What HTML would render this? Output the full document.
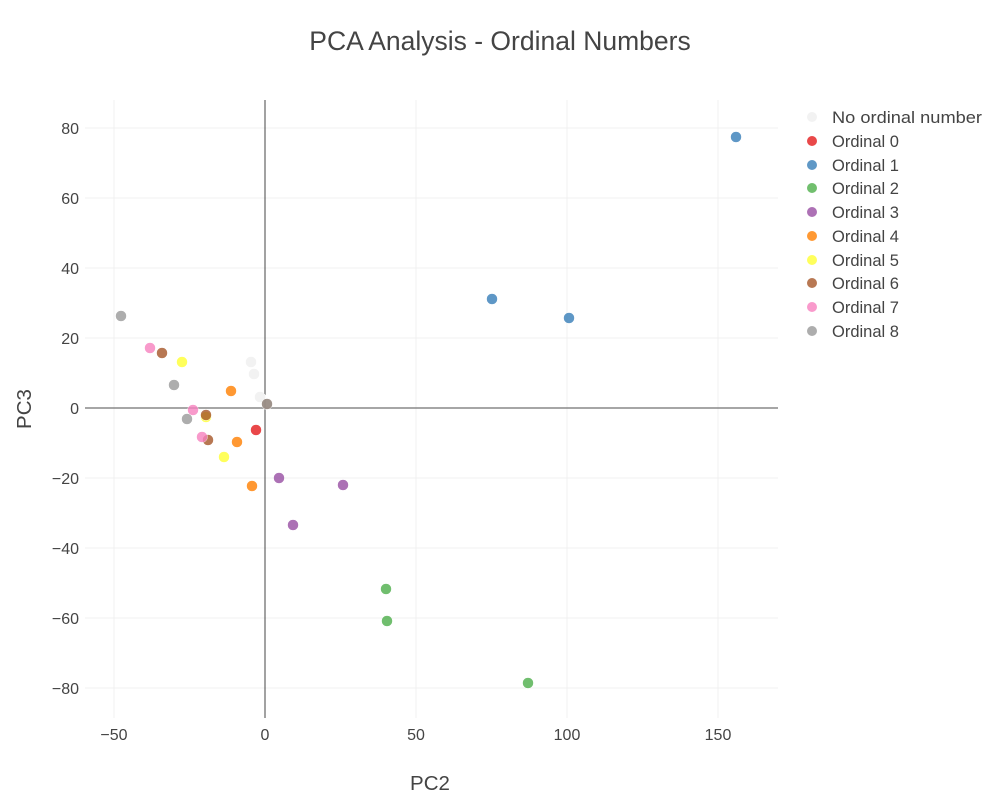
<!DOCTYPE html><html><head><style>body{margin:0;background:#fff}svg text{font-family:"Liberation Sans",sans-serif;fill:#444}</style></head><body>
<svg width="1000" height="800" xmlns="http://www.w3.org/2000/svg">
<text x="500" y="50" font-size="26.5" text-anchor="middle">PCA Analysis - Ordinal Numbers</text>
<g stroke="#f0f0f0" stroke-width="1">
<line x1="114" y1="100" x2="114" y2="718"/><line x1="416" y1="100" x2="416" y2="718"/><line x1="567" y1="100" x2="567" y2="718"/><line x1="718" y1="100" x2="718" y2="718"/>
<line x1="85" y1="128" x2="778" y2="128"/><line x1="85" y1="198" x2="778" y2="198"/><line x1="85" y1="268" x2="778" y2="268"/><line x1="85" y1="338" x2="778" y2="338"/><line x1="85" y1="478" x2="778" y2="478"/><line x1="85" y1="548" x2="778" y2="548"/><line x1="85" y1="618" x2="778" y2="618"/><line x1="85" y1="688" x2="778" y2="688"/>
</g>
<line x1="265" y1="100" x2="265" y2="718" stroke="#444" stroke-width="1"/>
<line x1="85" y1="408" x2="778" y2="408" stroke="#888" stroke-width="1.5"/>
<g font-size="16" text-anchor="middle">
<text x="114" y="740">−50</text><text x="265" y="740">0</text><text x="416" y="740">50</text><text x="567" y="740">100</text><text x="718" y="740">150</text>
</g>
<g font-size="16" text-anchor="end">
<text x="79" y="134">80</text><text x="79" y="204">60</text><text x="79" y="274">40</text><text x="79" y="344">20</text><text x="79" y="414">0</text><text x="79" y="484">−20</text><text x="79" y="554">−40</text><text x="79" y="624">−60</text><text x="79" y="694">−80</text>
</g>
<text x="430" y="790" font-size="20.5" text-anchor="middle">PC2</text>
<text x="31" y="409" font-size="20.5" text-anchor="middle" transform="rotate(-90 31 409)">PC3</text>
<g stroke="#fff" stroke-width="0.5">
<circle cx="251" cy="362" r="5.5" fill="#f2f2f2"/><circle cx="254" cy="374" r="5.5" fill="#f2f2f2"/><circle cx="260" cy="397" r="5.5" fill="#f2f2f2"/>
<circle cx="256" cy="430" r="5.5" fill="#e41a1c" opacity=".8"/>
<circle cx="492" cy="299" r="5.5" fill="#377eb8" opacity=".8"/><circle cx="569" cy="318" r="5.5" fill="#377eb8" opacity=".8"/><circle cx="736" cy="137" r="5.5" fill="#377eb8" opacity=".8"/>
<circle cx="386" cy="589" r="5.5" fill="#4daf4a" opacity=".8"/><circle cx="387" cy="621" r="5.5" fill="#4daf4a" opacity=".8"/><circle cx="528" cy="683" r="5.5" fill="#4daf4a" opacity=".8"/>
<circle cx="279" cy="478" r="5.5" fill="#984ea3" opacity=".8"/><circle cx="343" cy="485" r="5.5" fill="#984ea3" opacity=".8"/><circle cx="293" cy="525" r="5.5" fill="#984ea3" opacity=".8"/>
<circle cx="231" cy="391" r="5.5" fill="#ff7f00" opacity=".8"/><circle cx="237" cy="442" r="5.5" fill="#ff7f00" opacity=".8"/><circle cx="252" cy="486" r="5.5" fill="#ff7f00" opacity=".8"/>
<circle cx="182" cy="362" r="5.5" fill="#ffff33" opacity=".8"/><circle cx="206" cy="417" r="5.5" fill="#ffff33" opacity=".8"/><circle cx="224" cy="457" r="5.5" fill="#ffff33" opacity=".8"/>
<circle cx="162" cy="353" r="5.5" fill="#a65628" opacity=".8"/><circle cx="206" cy="415" r="5.5" fill="#a65628" opacity=".8"/><circle cx="208" cy="440" r="5.5" fill="#a65628" opacity=".8"/><circle cx="267" cy="404" r="5.5" fill="#a65628" opacity=".8"/>
<circle cx="150" cy="348" r="5.5" fill="#f781bf" opacity=".8"/><circle cx="193" cy="410" r="5.5" fill="#f781bf" opacity=".8"/><circle cx="202" cy="437" r="5.5" fill="#f781bf" opacity=".8"/>
<circle cx="121" cy="316" r="5.5" fill="#999" opacity=".8"/><circle cx="174" cy="385" r="5.5" fill="#999" opacity=".8"/><circle cx="187" cy="419" r="5.5" fill="#999" opacity=".8"/><circle cx="267" cy="404" r="5.5" fill="#999" opacity=".8"/>
</g>
<g font-size="16.5">
<circle cx="812" cy="117" r="5" fill="#f2f2f2"/><text x="832" y="123" textLength="150" lengthAdjust="spacingAndGlyphs">No ordinal number</text>
<circle cx="812" cy="141" r="5" fill="#e41a1c" opacity=".8"/><text x="832" y="147">Ordinal 0</text>
<circle cx="812" cy="165" r="5" fill="#377eb8" opacity=".8"/><text x="832" y="171">Ordinal 1</text>
<circle cx="812" cy="188" r="5" fill="#4daf4a" opacity=".8"/><text x="832" y="194">Ordinal 2</text>
<circle cx="812" cy="212" r="5" fill="#984ea3" opacity=".8"/><text x="832" y="218">Ordinal 3</text>
<circle cx="812" cy="236" r="5" fill="#ff7f00" opacity=".8"/><text x="832" y="242">Ordinal 4</text>
<circle cx="812" cy="260" r="5" fill="#ffff33" opacity=".8"/><text x="832" y="266">Ordinal 5</text>
<circle cx="812" cy="283" r="5" fill="#a65628" opacity=".8"/><text x="832" y="289">Ordinal 6</text>
<circle cx="812" cy="307" r="5" fill="#f781bf" opacity=".8"/><text x="832" y="313">Ordinal 7</text>
<circle cx="812" cy="331" r="5" fill="#999" opacity=".8"/><text x="832" y="337">Ordinal 8</text>
</g>
</svg></body></html>
